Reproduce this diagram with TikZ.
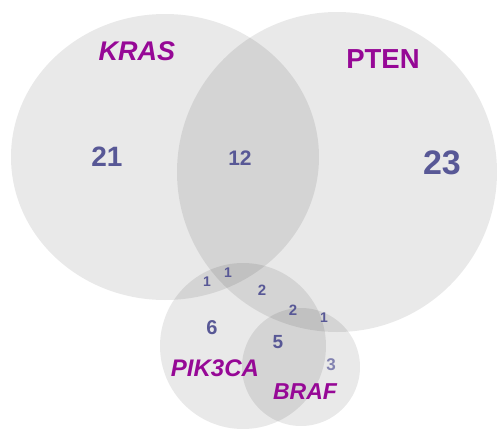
\documentclass[tikz,border=0pt]{standalone}
\usepackage{fontspec}
\setmainfont{Liberation Sans}
\definecolor{gene}{RGB}{150,8,150}
\definecolor{num}{RGB}{88,88,150}
\begin{document}
\begin{tikzpicture}[x=1pt,y=-1pt,
  setfill/.style={fill=black,fill opacity=0.085,draw=none},
  genelab/.style={text=gene,font=\fontsize{#1}{#1}\selectfont\bfseries\itshape,inner sep=0pt},
  genelabup/.style={text=gene,font=\fontsize{#1}{#1}\selectfont\bfseries,inner sep=0pt},
  numlab/.style={text=num,font=\fontsize{#1}{#1}\selectfont\bfseries,inner sep=0pt}]
\useasboundingbox[fill=white] (0,0) rectangle (499,429);
% sets
\fill[setfill] (165,157) ellipse [x radius=154, y radius=143];
\fill[setfill] (337,172) circle [radius=160];
\fill[setfill] (243,346) circle [radius=83];
\fill[setfill] (301,367) circle [radius=59];
% set names
\node[genelab=27] (kras) at (137,51) {KRAS};
\node[genelabup=27.5] (pten) at (383,59) {PTEN};
\node[genelab=24] (pik) at (215,368) {PIK3CA};
\node[genelab=23] (braf) at (305,392) {BRAF};
% counts
\node[numlab=28] (n21) at (107,157) {21};
\node[numlab=21] (n12) at (240,158) {12};
\node[numlab=34] (n23) at (442,163) {23};
\node[numlab=14] (na) at (207,282) {1};
\node[numlab=14] (nb) at (228,273) {1};
\node[numlab=15] (nc) at (262,290) {2};
\node[numlab=15] (nd) at (293,310) {2};
\node[numlab=14] (ne) at (324,318) {1};
\node[numlab=20] (nf) at (212,328) {6};
\node[numlab=19] (ng) at (278,342) {5};
\node[numlab=17,text=num!75] (nh) at (331,365) {3};
\end{tikzpicture}
\end{document}
